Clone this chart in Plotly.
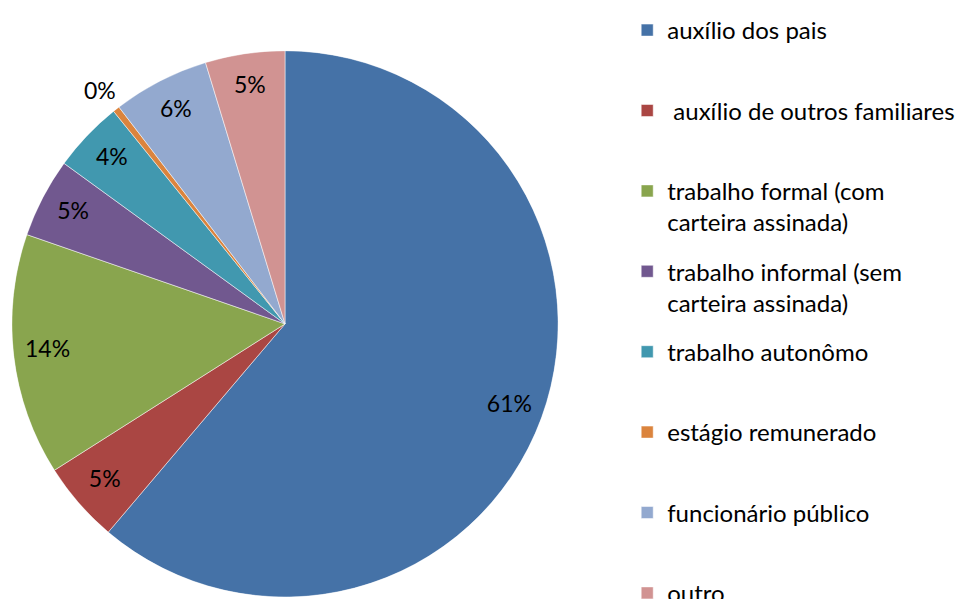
import math
import plotly.graph_objects as go

labels = [
    "auxílio dos pais",
    " auxílio de outros familiares",
    "trabalho formal (com<br>carteira assinada)",
    "trabalho informal (sem<br>carteira assinada)",
    "trabalho autonômo",
    "estágio remunerado",
    "funcionário público",
    "outro",
]
values = [61.2, 4.8, 14.3, 4.7, 4.2, 0.4, 5.7, 4.7]
colors = ["#4572A7", "#AA4643", "#89A54E", "#71588F",
          "#4198AF", "#DB843D", "#93A9CF", "#D19392"]

total = sum(values)
widths = [v / total * 360 for v in values]
mids = []
start = 0
for w in widths:
    mids.append(start + w / 2)
    start += w
pct_text = [f"{round(v / total * 100)}%" for v in values]

W, H = 966, 599
dom_x = [2 / W, 552 / W]
dom_y = [10 / H, 560 / H]

fig = go.Figure()
for lab, w, m, c in zip(labels, widths, mids, colors):
    n_lines = lab.count("<br>") + 1
    fig.add_trace(
        go.Barpolar(
            r=[1],
            theta=[m],
            width=[w],
            name=lab + "<br> " * (2 - n_lines),
            legendgroup=lab,
            marker=dict(color=c, line=dict(color="white", width=0.5)),
            hovertemplate=lab + "<extra></extra>",
        )
    )

inside = [i for i, v in enumerate(values) if v >= 1]
fig.add_trace(
    go.Scatterpolar(
        r=[0.875] * len(inside),
        theta=[mids[i] for i in inside],
        mode="text",
        text=[pct_text[i] for i in inside],
        textfont=dict(size=23, color="black", family="Lato"),
        showlegend=False,
        hoverinfo="skip",
    )
)

# tiny slices: label just outside the rim (polar hides points beyond its range)
cx = (dom_x[0] + dom_x[1]) / 2
cy = (dom_y[0] + dom_y[1]) / 2
rx = (dom_x[1] - dom_x[0]) / 2
ry = (dom_y[1] - dom_y[0]) / 2
for i, v in enumerate(values):
    if v < 1:
        a = math.radians(mids[i])
        fig.add_annotation(
            x=cx + 1.09 * rx * math.sin(a),
            y=cy + 1.09 * ry * math.cos(a),
            xref="paper", yref="paper",
            xanchor="center", yanchor="middle",
            text=pct_text[i],
            showarrow=False,
            font=dict(size=23, color="black", family="Lato"),
        )

fig.update_layout(
    width=W,
    height=H,
    margin=dict(l=0, r=0, t=0, b=0),
    paper_bgcolor="white",
    font=dict(family="Lato", size=24, color="black"),
    polar=dict(
        domain=dict(x=dom_x, y=dom_y),
        bgcolor="rgba(0,0,0,0)",
        angularaxis=dict(rotation=90, direction="clockwise", visible=False),
        radialaxis=dict(range=[0, 1], visible=False),
    ),
    legend=dict(
        x=0.641,
        y=1.006,
        xanchor="left",
        yanchor="top",
        valign="top",
        tracegroupgap=15,
        maxheight=1000,
        font=dict(size=24, family="Lato", color="black"),
        bgcolor="rgba(0,0,0,0)",
    ),
)

fig.write_html("out.html")
